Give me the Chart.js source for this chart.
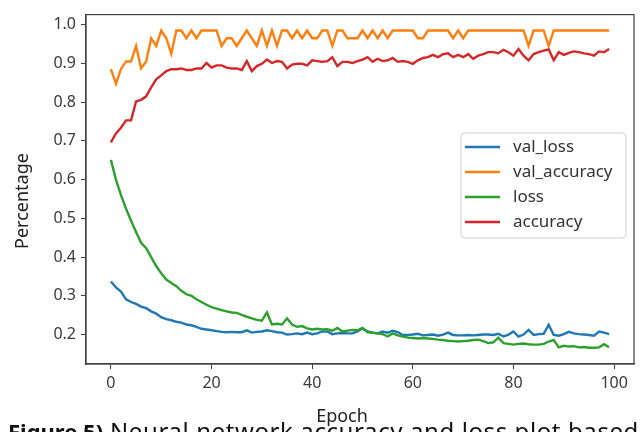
<!DOCTYPE html>
<html>
<head>
<meta charset="utf-8">
<script src="https://cdn.jsdelivr.net/npm/chart.js@4.4.0/dist/chart.umd.min.js"></script>
<style>
  html, body { margin: 0; padding: 0; background: #fff; overflow: hidden; }
  #wrap { position: relative; width: 641px; height: 432px; }
  #caption {
    position: absolute; left: 8px; top: 414px; white-space: nowrap;
    font-family: "Noto Sans", sans-serif; font-size: 24px; color: #111;
    letter-spacing: 0.6px;
  }
  #caption b { font-size: 22px; letter-spacing: 0; }
</style>
</head>
<body>
<div id="wrap">
  <canvas id="histChart"></canvas>
  <div id="caption"><b>Figure 5)</b> Neural network accuracy and loss plot based</div>
</div>
<script>
const epochs = [
  0, 1, 2, 3, 4, 5, 6, 7, 8, 9, 10, 11, 12, 13, 14, 15, 16, 17, 18, 19,
  20, 21, 22, 23, 24, 25, 26, 27, 28, 29, 30, 31, 32, 33, 34, 35, 36, 37, 38, 39,
  40, 41, 42, 43, 44, 45, 46, 47, 48, 49, 50, 51, 52, 53, 54, 55, 56, 57, 58, 59,
  60, 61, 62, 63, 64, 65, 66, 67, 68, 69, 70, 71, 72, 73, 74, 75, 76, 77, 78, 79,
  80, 81, 82, 83, 84, 85, 86, 87, 88, 89, 90, 91, 92, 93, 94, 95, 96, 97, 98, 99
];

const valLoss = [
  0.337, 0.322, 0.311, 0.291, 0.284, 0.279, 0.272, 0.268, 0.260, 0.254,
  0.245, 0.240, 0.237, 0.233, 0.231, 0.226, 0.224, 0.220, 0.215, 0.213,
  0.211, 0.209, 0.207, 0.206, 0.207, 0.206, 0.206, 0.211, 0.205, 0.207,
  0.208, 0.211, 0.209, 0.206, 0.205, 0.200, 0.201, 0.203, 0.201, 0.205,
  0.201, 0.203, 0.208, 0.208, 0.201, 0.203, 0.204, 0.203, 0.203, 0.208,
  0.216, 0.208, 0.205, 0.203, 0.208, 0.205, 0.210, 0.206, 0.199, 0.199,
  0.200, 0.202, 0.198, 0.199, 0.200, 0.197, 0.200, 0.205, 0.199, 0.198,
  0.198, 0.199, 0.198, 0.199, 0.200, 0.200, 0.199, 0.202, 0.195, 0.200,
  0.208, 0.195, 0.200, 0.212, 0.199, 0.201, 0.202, 0.225, 0.199, 0.197,
  0.201, 0.207, 0.203, 0.201, 0.200, 0.199, 0.197, 0.208, 0.205, 0.201
];

const valAccuracy = [
  0.885, 0.848, 0.885, 0.905, 0.905, 0.945, 0.887, 0.905, 0.965, 0.945,
  0.985, 0.965, 0.925, 0.985, 0.985, 0.965, 0.985, 0.965, 0.985, 0.985,
  0.985, 0.985, 0.945, 0.965, 0.965, 0.945, 0.965, 0.985, 0.965, 0.945,
  0.985, 0.945, 0.985, 0.945, 0.985, 0.985, 0.965, 0.985, 0.965, 0.985,
  0.965, 0.965, 0.985, 0.985, 0.945, 0.985, 0.985, 0.965, 0.965, 0.965,
  0.985, 0.965, 0.985, 0.965, 0.985, 0.965, 0.985, 0.985, 0.985, 0.985,
  0.985, 0.965, 0.965, 0.985, 0.985, 0.985, 0.985, 0.985, 0.965, 0.985,
  0.965, 0.985, 0.985, 0.985, 0.985, 0.985, 0.985, 0.985, 0.985, 0.985,
  0.985, 0.985, 0.985, 0.945, 0.985, 0.985, 0.985, 0.945, 0.985, 0.985,
  0.985, 0.985, 0.985, 0.985, 0.985, 0.985, 0.985, 0.985, 0.985, 0.985
];

const loss = [
  0.651, 0.600, 0.560, 0.525, 0.494, 0.465, 0.437, 0.423, 0.400, 0.377,
  0.358, 0.342, 0.333, 0.325, 0.313, 0.304, 0.300, 0.291, 0.284, 0.277,
  0.271, 0.267, 0.263, 0.260, 0.257, 0.256, 0.251, 0.246, 0.242, 0.238,
  0.236, 0.257, 0.226, 0.228, 0.226, 0.242, 0.226, 0.220, 0.222, 0.216,
  0.213, 0.215, 0.213, 0.214, 0.210, 0.217, 0.208, 0.210, 0.212, 0.211,
  0.217, 0.206, 0.205, 0.203, 0.201, 0.195, 0.203, 0.198, 0.195, 0.192,
  0.191, 0.190, 0.191, 0.190, 0.189, 0.187, 0.186, 0.184, 0.183, 0.182,
  0.183, 0.184, 0.186, 0.187, 0.183, 0.178, 0.180, 0.192, 0.178, 0.176,
  0.174, 0.176, 0.177, 0.175, 0.174, 0.174, 0.176, 0.182, 0.186, 0.167,
  0.171, 0.169, 0.170, 0.167, 0.168, 0.166, 0.166, 0.167, 0.175, 0.167
];

const accuracy = [
  0.696, 0.719, 0.734, 0.753, 0.753, 0.802, 0.806, 0.815, 0.838, 0.859,
  0.869, 0.880, 0.885, 0.885, 0.887, 0.883, 0.883, 0.887, 0.887, 0.901,
  0.889, 0.895, 0.895, 0.889, 0.887, 0.887, 0.883, 0.906, 0.880, 0.893,
  0.899, 0.910, 0.901, 0.906, 0.904, 0.887, 0.897, 0.899, 0.899, 0.895,
  0.908, 0.906, 0.904, 0.906, 0.916, 0.893, 0.904, 0.904, 0.901, 0.906,
  0.910, 0.916, 0.904, 0.912, 0.906, 0.908, 0.914, 0.904, 0.906, 0.904,
  0.899, 0.908, 0.914, 0.916, 0.922, 0.916, 0.924, 0.926, 0.916, 0.922,
  0.916, 0.924, 0.912, 0.920, 0.924, 0.929, 0.929, 0.926, 0.935, 0.929,
  0.920, 0.937, 0.920, 0.908, 0.924, 0.929, 0.933, 0.936, 0.908, 0.929,
  0.922, 0.927, 0.931, 0.929, 0.926, 0.924, 0.920, 0.931, 0.929, 0.937
];

const xTicks = [0, 20, 40, 60, 80, 100];
const yTicks = [0.2, 0.3, 0.4, 0.5, 0.6, 0.7, 0.8, 0.9, 1.0];

const series = [
  { label: 'val_loss', values: valLoss, color: '#1f77b4' },
  { label: 'val_accuracy', values: valAccuracy, color: '#ff7f0e' },
  { label: 'loss', values: loss, color: '#2ca02c' },
  { label: 'accuracy', values: accuracy, color: '#d62728' }
];

const FONT = '"Noto Sans", sans-serif';
const axisColor = '#404040';

// frame, axis titles and the legend box
const extras = {
  id: 'extras',
  afterDraw(chart) {
    const { ctx, chartArea: a } = chart;
    ctx.save();
    ctx.strokeStyle = axisColor;
    ctx.lineWidth = 1.2;
    ctx.strokeRect(a.left, a.top, a.right - a.left, a.bottom - a.top);

    ctx.fillStyle = '#222';
    ctx.font = '18px ' + FONT;
    ctx.textAlign = 'center';
    ctx.textBaseline = 'middle';
    ctx.fillText('Epoch', 342, 417);
    ctx.translate(23, 201);
    ctx.rotate(-Math.PI / 2);
    ctx.fillText('Percentage', 0, 0);
    ctx.restore();

    // legend
    ctx.save();
    const bx = 461, by = 133, bw = 165, bh = 105;
    ctx.beginPath();
    ctx.roundRect(bx, by, bw, bh, 4);
    ctx.fillStyle = 'rgba(255,255,255,0.85)';
    ctx.fill();
    ctx.strokeStyle = '#d0d0d0';
    ctx.lineWidth = 1;
    ctx.stroke();
    ctx.font = '17px ' + FONT;
    ctx.textBaseline = 'middle';
    series.forEach((s, i) => {
      const y = 147 + i * 25;
      ctx.strokeStyle = s.color;
      ctx.lineWidth = 2.4;
      ctx.beginPath();
      ctx.moveTo(465, y);
      ctx.lineTo(500, y);
      ctx.stroke();
      ctx.fillStyle = '#333';
      ctx.fillText(s.label, 513, y);
    });
    ctx.restore();
  }
};

const ctx = document.getElementById('histChart').getContext('2d');
new Chart(ctx, {
  type: 'line',
  data: {
    datasets: series.map((s, k) => ({
      label: s.label,
      data: epochs.map((e, i) => ({ x: e, y: s.values[i] })),
      borderColor: s.color,
      borderWidth: 2.4,
      pointRadius: 0,
      tension: 0,
      order: 4 - k
    }))
  },
  options: {
    responsive: true,
    maintainAspectRatio: false,
    animation: false,
    layout: { padding: { left: 0, top: 7, right: 7, bottom: 0 } },
    plugins: {
      legend: { display: false },
      tooltip: { enabled: false }
    },
    scales: {
      x: {
        type: 'linear',
        min: -4.95,
        max: 103.95,
        afterBuildTicks: scale => { scale.ticks = xTicks.map(v => ({ value: v })); },
        afterFit: scale => { scale.height = 68; },
        grid: { drawOnChartArea: false, tickLength: 5, color: axisColor },
        border: { color: axisColor, width: 1.2 },
        ticks: { color: '#3a3a3a', font: { family: FONT, size: 16 }, padding: 5, maxRotation: 0 }
      },
      y: {
        min: 0.124,
        max: 1.026,
        afterBuildTicks: scale => { scale.ticks = yTicks.map(v => ({ value: v })); },
        afterFit: scale => { scale.width = 86; },
        grid: { drawOnChartArea: false, tickLength: 5, color: axisColor },
        border: { color: axisColor, width: 1.2 },
        ticks: {
          color: '#3a3a3a', font: { family: FONT, size: 16 }, padding: 5,
          callback: v => v.toFixed(1)
        }
      }
    }
  },
  plugins: [extras]
});
</script>
</body>
</html>
